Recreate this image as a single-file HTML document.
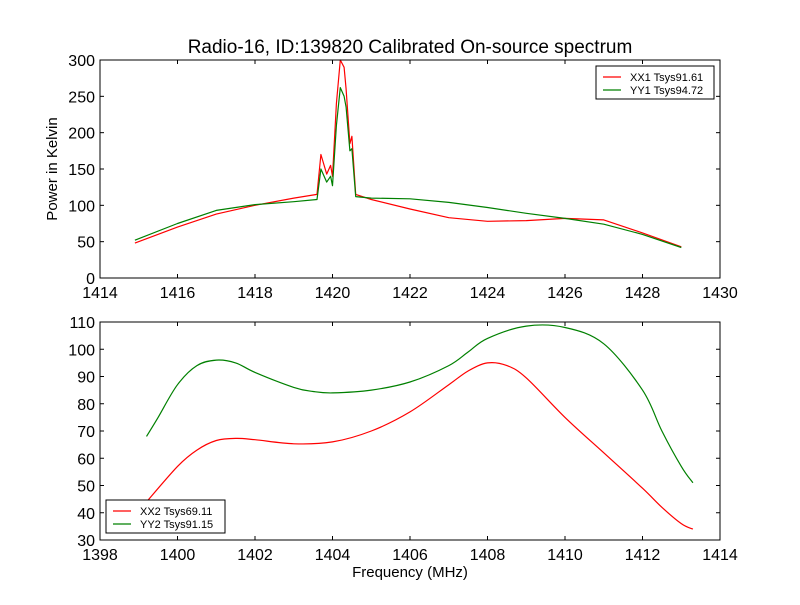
<!DOCTYPE html>
<html><head><meta charset="utf-8"><style>
body{margin:0;background:#fff}
svg{font-family:"Liberation Sans","DejaVu Sans",sans-serif}
</style></head><body>
<svg id="c" width="800" height="600" viewBox="0 0 800 600" xmlns="http://www.w3.org/2000/svg">
<rect width="800" height="600" fill="#fff"/>
<text x="410" y="53" font-size="19" text-anchor="middle">Radio-16, ID:139820 Calibrated On-source spectrum</text>
<g id="top"></g><g id="bot"></g>
</svg>
<script>
const topFreqXX=[1414.9,1416,1417,1418,1419,1419.6,1419.7,1419.85,1419.95,1420.0,1420.1,1420.2,1420.3,1420.35,1420.45,1420.5,1420.6,1421,1422,1423,1424,1425,1426,1427,1428,1429];
const topXX=[48,70,88,100,110,115,170,143,155,140,240,300,290,260,185,195,115,108,95,83,78,79,82,80,62,43];
const topYY=[52,75,93,101,105,108,150,132,140,127,210,262,250,235,175,178,112,110,109,104,97,89,82,74,60,42];
const botFreq=[1399.2,1400,1400.5,1401,1401.5,1402,1403,1404,1405,1406,1407,1407.5,1408,1408.5,1409,1410,1411,1412,1412.5,1413,1413.3];
const botXX=[44,57,63,66.5,67.3,66.8,65.3,66,70,77,87,92,95,94,89.5,75,62,49,42,36,34];
const botFreqYY=[1399.2,1399.5,1400,1400.5,1401,1401.5,1402,1403,1403.5,1404,1405,1406,1407,1407.5,1408,1409,1410,1411,1412,1412.5,1413,1413.3];
const botYY=[68,75,87,94,96,95,91.5,86,84.5,84,85,88,94,99,104,108.5,108,102,85,70,57,51];
const topXTicks=[1414,1416,1418,1420,1422,1424,1426,1428,1430];
const topYTicks=[0,50,100,150,200,250,300];
const botXTicks=[1398,1400,1402,1404,1406,1408,1410,1412,1414];
const botYTicks=[30,40,50,60,70,80,90,100,110];
const NS="http://www.w3.org/2000/svg";
function mk(p,t,a){const e=document.createElementNS(NS,t);for(const k in a)e.setAttribute(k,a[k]);p.appendChild(e);return e;}
function smoothPath(pts){
 let d='M'+pts[0][0].toFixed(1)+','+pts[0][1].toFixed(1);
 for(let i=0;i<pts.length-1;i++){
  const p0=pts[Math.max(i-1,0)],p1=pts[i],p2=pts[i+1],p3=pts[Math.min(i+2,pts.length-1)];
  const c1=[p1[0]+(p2[0]-p0[0])/6,p1[1]+(p2[1]-p0[1])/6];
  const c2=[p2[0]-(p3[0]-p1[0])/6,p2[1]-(p3[1]-p1[1])/6];
  d+='C'+c1.map(v=>v.toFixed(1))+' '+c2.map(v=>v.toFixed(1))+' '+p2.map(v=>v.toFixed(1));
 }
 return d;
}
function panel(g,L,T,R,B,x0,x1,y0,y1,xt,yt,series,legend,ylabel,xlabel,smooth){
 const sx=v=>L+(v-x0)/(x1-x0)*(R-L), sy=v=>B-(v-y0)/(y1-y0)*(B-T);
 series.forEach(s=>{
  const pts=s.f.map((f,i)=>[sx(f),sy(s.v[i])]);
  const d=smooth?smoothPath(pts):pts.map((p,i)=>(i?'L':'M')+p[0].toFixed(1)+','+p[1].toFixed(1)).join('');
  const p=mk(g,'path',{d:d,fill:'none',stroke:s.c,'stroke-width':1.2,'stroke-linejoin':'round'});
  
  
 });
 const fr=mk(g,'rect',{x:L,y:T,width:R-L,height:B-T,fill:'none',stroke:'#000','stroke-width':1});
 
 
 xt.forEach(v=>{const x=sx(v);mk(g,'line',{x1:x,x2:x,y1:B,y2:B-4,stroke:'#000'});mk(g,'line',{x1:x,x2:x,y1:T,y2:T+4,stroke:'#000'});
  const t=mk(g,'text',{x:x,y:B+20,'font-size':16,'text-anchor':'middle'});t.textContent=v;
  
  });
 yt.forEach(v=>{const y=sy(v);mk(g,'line',{x1:L,x2:L+4,y1:y,y2:y,stroke:'#000'});mk(g,'line',{x1:R,x2:R-4,y1:y,y2:y,stroke:'#000'});
  const t=mk(g,'text',{x:L-5,y:y+6,'font-size':16,'text-anchor':'end'});t.textContent=v;
  
  });
 const lg=mk(g,'g',{});
 
 
 mk(lg,'rect',{x:legend.x,y:legend.y,width:legend.w,height:33,fill:'#fff',stroke:'#000','stroke-width':1});
 series.forEach((s,i)=>{const y=legend.y+11+i*13;
  mk(lg,'line',{x1:legend.x+7,x2:legend.x+25,y1:y,y2:y,stroke:s.c,'stroke-width':1.2});
  const t=mk(lg,'text',{x:legend.x+34,y:y+4,'font-size':11});t.textContent=s.label;
  
  });
 if(ylabel){const t=mk(g,'text',{x:0,y:0,'font-size':15,'text-anchor':'middle',transform:`translate(57,${(T+B)/2}) rotate(-90)`});t.textContent=ylabel;
  
  }
 if(xlabel){const t=mk(g,'text',{x:(L+R)/2,y:B+37,'font-size':15,'text-anchor':'middle'});t.textContent=xlabel;
  
  }
}
const gt=document.getElementById('top');


panel(gt,100,60,720,278,1414,1430,0,300,topXTicks,topYTicks,
 [{f:topFreqXX,v:topXX,c:'#ff0000',label:'XX1 Tsys91.61',name:'xx1-line'},{f:topFreqXX,v:topYY,c:'#008000',label:'YY1 Tsys94.72',name:'yy1-line'}],
 {x:596,y:66,w:118},'Power in Kelvin',null,false);
const gb=document.getElementById('bot');


panel(gb,100,322,720,540,1398,1414,30,110,botXTicks,botYTicks,
 [{f:botFreq,v:botXX,c:'#ff0000',label:'XX2 Tsys69.11',name:'xx2-line'},{f:botFreqYY,v:botYY,c:'#008000',label:'YY2 Tsys91.15',name:'yy2-line'}],
 {x:106,y:500,w:119},null,'Frequency (MHz)',true);
</script>
</body></html>
